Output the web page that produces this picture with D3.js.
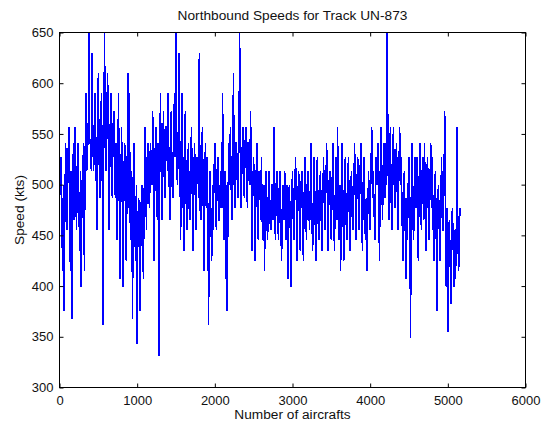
<!DOCTYPE html>
<html>
<head>
<meta charset="utf-8">
<script src="https://cdn.jsdelivr.net/npm/d3@7"></script>
<style>
  body { margin: 0; background: #fff; }
  text { font-family: "Liberation Sans", Arial, sans-serif; }
</style>
</head>
<body>
<div id="chart"></div>
<script>
// speed samples, one every 10 aircraft (0 .. 5160)
var step = 10;
var speeds = [
  477,513, 527,465, 415,500, 375,487, 541,465,
  455,527, 557,477, 415,513, 368,500, 541,465,
  557,487, 455,527, 541,477, 435,513, 399,500,
  513,541, 415,527, 590,513, 527,557, 650,541,
  541,513, 630,541, 513,573, 590,527, 455,557,
  610,527, 487,557, 590,513, 362,541, 650,527,
  513,573, 610,527, 455,541, 590,513, 487,557,
  573,500, 487,541, 445,513, 590,477, 407,500,
  557,465, 399,513, 541,455, 425,500, 610,477,
  590,465, 445,513, 368,487, 541,455, 425,500,
  343,465, 487,445, 375,477, 500,455, 407,487,
  557,500, 455,527, 541,487, 477,541, 527,500,
  573,500, 425,527, 557,487, 465,541, 331,513,
  590,513, 465,541, 573,500, 487,557, 557,513,
  590,513, 465,557, 573,500, 487,541, 590,527,
  650,513, 500,557, 630,527, 445,541, 590,500,
  435,527, 573,487, 455,513, 541,477, 465,527,
  557,487, 435,513, 541,477, 455,527, 527,487,
  630,477, 465,527, 557,487, 415,513, 541,477,
  527,477, 362,500, 513,465, 425,500, 455,513,
  541,477, 455,513, 527,465, 465,500, 513,477,
  590,487, 445,513, 407,500, 375,487, 541,500,
  557,500, 465,527, 610,500, 477,541, 541,500,
  487,541, 650,500, 477,527, 557,500, 487,541,
  557,500, 477,541, 541,500, 573,513, 435,500,
  527,477, 425,500, 541,465, 445,513, 513,465,
  527,465, 445,500, 415,487, 513,465, 445,500,
  513,465, 455,500, 500,465, 557,477, 445,500,
  513,465, 445,500, 513,455, 425,487, 500,465,
  513,477, 445,500, 407,487, 500,465, 399,487,
  513,465, 445,500, 527,477, 425,487, 513,465,
  435,500, 513,465, 425,487, 527,477, 445,500,
  513,477, 455,500, 541,465, 435,500, 527,477,
  425,500, 527,465, 445,500, 513,465, 435,487,
  527,477, 455,500, 541,477, 435,500, 513,465,
  445,500, 541,477, 435,487, 527,465, 557,487,
  445,500, 415,487, 541,477, 425,500, 527,465,
  445,500, 527,477, 435,500, 513,465, 455,500,
  541,477, 445,500, 527,465, 455,513, 541,477,
  435,500, 527,465, 445,487, 415,477, 513,465,
  455,513, 557,487, 513,477, 445,527, 527,500,
  541,487, 425,513, 557,500, 465,527, 541,487,
  541,500, 650,527, 465,513, 557,487, 455,527,
  557,500, 477,527, 541,487, 455,513, 557,500,
  527,477, 425,500, 513,465, 407,487, 445,500,
  527,477, 349,500, 541,465, 445,513, 527,477,
  527,465, 425,500, 541,477, 455,513, 527,465,
  541,477, 435,513, 527,465, 445,500, 541,477,
  527,465, 425,500, 513,455, 375,487, 500,455,
  425,487, 527,455, 455,500, 573,465, 399,477,
  355,455, 465,425, 382,465, 477,435, 399,455,
  407,465, 557,445, 415,465, 477
];

var xTicks = [0, 1000, 2000, 3000, 4000, 5000, 6000];
var yTicks = [300, 350, 400, 450, 500, 550, 600, 650];

var title = "Northbound Speeds for Track UN-873",
    xTitle = "Number of aircrafts",
    yTitle = "Speed (kts)";

var w = 550,
  h = 426;
var margin = {left: 59.5, right: 24.5, top: 32.5, bottom: 38.5};
var pw = w - margin.left - margin.right,
  ph = h - margin.top - margin.bottom;

var svg = d3.select("#chart")
          .append("svg")
          .attr("width", w)
          .attr("height", h);

var g = svg.append("g")
          .attr("transform", "translate(" + margin.left + "," + margin.top + ")");

var x = d3.scaleLinear().domain([0, 6000]).range([0, pw]);
var y = d3.scaleLinear().domain([300, 650]).range([ph, 0]);

// data line, aliased so the dense zigzag fills in solid like the matlab plot
var line = d3.line()
           .x(function(d, i) { return x(i * step); })
           .y(function(d) { return y(d); });

g.append("path")
  .datum(speeds)
  .attr("d", line)
  .attr("fill", "none")
  .attr("stroke", "#0000ff")
  .attr("stroke-width", 1.5)
  .attr("shape-rendering", "crispEdges");

// axes, ticks pointing inward like matlab
function styleAxis(sel) {
  sel.select(".domain").remove();
  sel.selectAll("line").attr("stroke", "#000");
  sel.selectAll("text")
     .attr("fill", "#111")
     .style("font-size", "13px");
}

var fmt = d3.format("d");

g.append("g")
  .attr("transform", "translate(0," + ph + ")")
  .call(d3.axisBottom(x).tickValues(xTicks).tickFormat(fmt).tickSize(-4).tickSizeOuter(0).tickPadding(8))
  .call(styleAxis);

g.append("g")
  .call(d3.axisLeft(y).tickValues(yTicks).tickFormat(fmt).tickSize(-4).tickSizeOuter(0).tickPadding(6))
  .call(styleAxis);

g.append("g")
  .call(d3.axisTop(x).tickValues(xTicks).tickSize(-4).tickSizeOuter(0).tickFormat(""))
  .call(styleAxis);

g.append("g")
  .attr("transform", "translate(" + pw + ",0)")
  .call(d3.axisRight(y).tickValues(yTicks).tickSize(-4).tickSizeOuter(0).tickFormat(""))
  .call(styleAxis);

g.append("rect")
  .attr("width", pw)
  .attr("height", ph)
  .attr("fill", "none")
  .attr("stroke", "#000")
  .attr("stroke-width", 1);

svg.append("text")
  .attr("x", margin.left + pw / 2)
  .attr("y", 20)
  .attr("text-anchor", "middle")
  .attr("fill", "#111")
  .style("font-size", "13.7px")
  .text(title);

svg.append("text")
  .attr("x", margin.left + pw / 2)
  .attr("y", 419)
  .attr("text-anchor", "middle")
  .attr("fill", "#111")
  .style("font-size", "13.7px")
  .text(xTitle);

svg.append("text")
  .attr("transform", "translate(24," + (margin.top + ph / 2) + ") rotate(-90)")
  .attr("text-anchor", "middle")
  .attr("fill", "#111")
  .style("font-size", "13.7px")
  .text(yTitle);
</script>
</body>
</html>
